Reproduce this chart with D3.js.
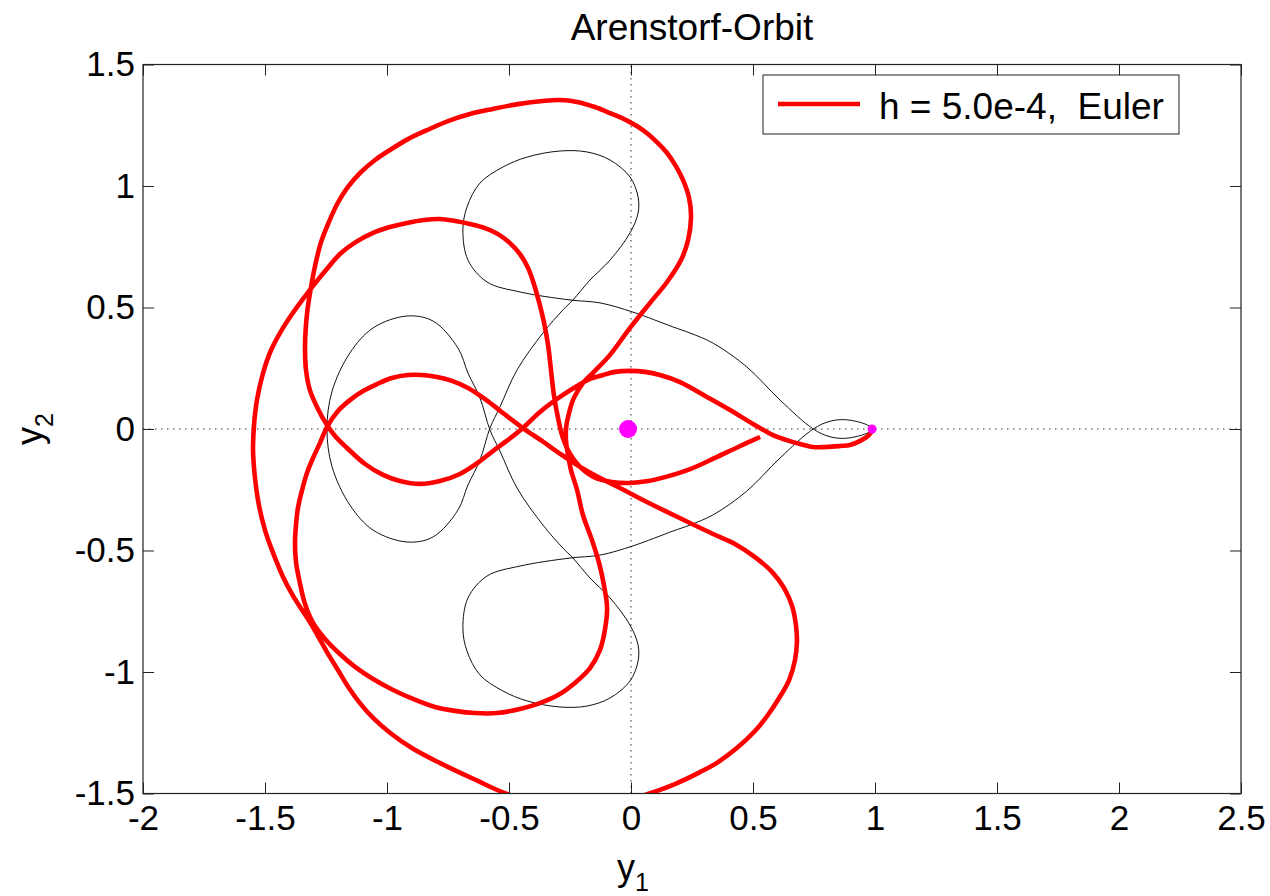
<!DOCTYPE html>
<html>
<head>
<meta charset="utf-8">
<script src="https://cdn.jsdelivr.net/npm/d3@7"></script>
<style>
body { margin: 0; background: #fff; }
svg text { font-family: "Liberation Sans", Arial, sans-serif; fill: #000; }
</style>
</head>
<body>
<svg width="1270" height="896"></svg>
<script>
let xTicks = [-2, -1.5, -1, -0.5, 0, 0.5, 1, 1.5, 2, 2.5]
let xTickLabels = ["-2", "-1.5", "-1", "-0.5", "0", "0.5", "1", "1.5", "2", "2.5"]
let yTicks = [-1.5, -1, -0.5, 0, 0.5, 1, 1.5]
let yTickLabels = ["-1.5", "-1", "-0.5", "0", "0.5", "1", "1.5"]

let legendLabel = "h = 5.0e-4,  Euler"
let titleText = "Arenstorf-Orbit"

// earth and moon positions
let earth = [-0.012, 0]
let moon = [0.988, 0]

// reference orbit (thin black)
let exactOrbit = [
  [0.994, 0], [0.966, -0.018], [0.884, -0.038], [0.816, -0.032], [0.747, 0],
  [0.611, 0.119], [0.474, 0.256], [0.337, 0.353], [0.242, 0.395], [0.172, 0.420],
  [0.008, 0.481], [-0.127, 0.519], [-0.250, 0.531], [-0.455, 0.564], [-0.590, 0.605],
  [-0.668, 0.695], [-0.689, 0.819], [-0.672, 0.914], [-0.619, 1.012], [-0.525, 1.078],
  [-0.426, 1.119], [-0.291, 1.144], [-0.180, 1.140], [-0.086, 1.107], [-0.004, 1.037],
  [0.029, 0.955], [0.029, 0.889], [-0.004, 0.807], [-0.086, 0.695], [-0.168, 0.613],
  [-0.238, 0.531], [-0.279, 0.490], [-0.361, 0.395], [-0.467, 0.243], [-0.537, 0.091],
  [-0.578, 0.004], [-0.619, -0.128], [-0.668, -0.230], [-0.709, -0.333], [-0.811, -0.444],
  [-0.918, -0.465], [-1.057, -0.416], [-1.152, -0.313], [-1.225, -0.156], [-1.246, 0],
  [-1.225, 0.156], [-1.152, 0.313], [-1.057, 0.416], [-0.918, 0.465], [-0.811, 0.444],
  [-0.709, 0.333], [-0.668, 0.230], [-0.619, 0.128], [-0.578, -0.004], [-0.537, -0.091],
  [-0.467, -0.243], [-0.361, -0.395], [-0.279, -0.490], [-0.238, -0.531], [-0.168, -0.613],
  [-0.086, -0.695], [-0.004, -0.807], [0.029, -0.889], [0.029, -0.955], [-0.004, -1.037],
  [-0.086, -1.107], [-0.180, -1.140], [-0.291, -1.144], [-0.426, -1.119], [-0.525, -1.078],
  [-0.619, -1.012], [-0.672, -0.914], [-0.689, -0.819], [-0.668, -0.695], [-0.590, -0.605],
  [-0.455, -0.564], [-0.250, -0.531], [-0.127, -0.519], [0.008, -0.481], [0.172, -0.420],
  [0.242, -0.395], [0.337, -0.353], [0.474, -0.256], [0.611, -0.119], [0.747, 0],
  [0.816, 0.032], [0.884, 0.038], [0.966, 0.018], [0.994, 0]
]

// Euler solution (thick red)
let eulerOrbit = [
  [0.994, 0], [0.971, -0.029], [0.939, -0.049], [0.898, -0.066], [0.857, -0.070],
  [0.799, -0.074], [0.746, -0.074], [0.693, -0.062], [0.635, -0.045], [0.582, -0.025],
  [0.500, 0.021], [0.406, 0.078], [0.311, 0.132], [0.201, 0.193], [0.119, 0.222],
  [0.057, 0.235], [-0.004, 0.239], [-0.066, 0.235], [-0.115, 0.222], [-0.168, 0.206],
  [-0.221, 0.177], [-0.291, 0.132], [-0.373, 0.070], [-0.443, 0.004], [-0.504, -0.045],
  [-0.566, -0.091], [-0.635, -0.144], [-0.701, -0.185], [-0.783, -0.214], [-0.865, -0.226],
  [-0.947, -0.214], [-1.016, -0.189], [-1.090, -0.144], [-1.164, -0.078], [-1.213, -0.029],
  [-1.246, 0.016], [-1.287, 0.091], [-1.316, 0.160], [-1.332, 0.243], [-1.336, 0.325],
  [-1.334, 0.400], [-1.326, 0.490], [-1.312, 0.580], [-1.294, 0.675], [-1.270, 0.770],
  [-1.238, 0.852], [-1.202, 0.930], [-1.160, 0.996], [-1.111, 1.053], [-1.049, 1.107],
  [-0.988, 1.148], [-0.914, 1.193], [-0.836, 1.230], [-0.750, 1.267], [-0.660, 1.296],
  [-0.566, 1.317], [-0.463, 1.337], [-0.361, 1.350], [-0.291, 1.354], [-0.221, 1.346],
  [-0.148, 1.325], [-0.086, 1.300], [-0.012, 1.267], [0.049, 1.230], [0.102, 1.185],
  [0.148, 1.136], [0.184, 1.082], [0.213, 1.025], [0.238, 0.951], [0.246, 0.872],
  [0.234, 0.778], [0.205, 0.695], [0.148, 0.605], [0.078, 0.519], [-0.004, 0.416],
  [-0.086, 0.305], [-0.148, 0.239], [-0.197, 0.189], [-0.234, 0.128], [-0.254, 0.066],
  [-0.266, 0.004], [-0.266, -0.053], [-0.258, -0.107], [-0.246, -0.169], [-0.221, -0.251],
  [-0.197, -0.354], [-0.160, -0.457], [-0.131, -0.551], [-0.111, -0.642], [-0.098, -0.737],
  [-0.107, -0.827], [-0.127, -0.909], [-0.168, -0.984], [-0.230, -1.045], [-0.299, -1.095],
  [-0.373, -1.128], [-0.455, -1.152], [-0.549, -1.169], [-0.639, -1.169], [-0.721, -1.160],
  [-0.803, -1.144], [-0.893, -1.111], [-0.975, -1.074], [-1.057, -1.029], [-1.131, -0.979],
  [-1.193, -0.926], [-1.254, -0.864], [-1.303, -0.798], [-1.336, -0.720], [-1.357, -0.634],
  [-1.373, -0.547], [-1.377, -0.469], [-1.373, -0.395], [-1.365, -0.325], [-1.348, -0.251],
  [-1.328, -0.181], [-1.303, -0.119], [-1.275, -0.058], [-1.246, 0.008], [-1.201, 0.074],
  [-1.152, 0.119], [-1.098, 0.156], [-1.041, 0.185], [-0.980, 0.210], [-0.914, 0.222],
  [-0.857, 0.222], [-0.795, 0.214], [-0.734, 0.198], [-0.668, 0.169], [-0.598, 0.123],
  [-0.525, 0.066], [-0.443, 0.004], [-0.365, -0.049], [-0.283, -0.107], [-0.201, -0.160],
  [-0.119, -0.206], [-0.037, -0.247], [0.049, -0.292], [0.139, -0.337], [0.242, -0.387],
  [0.336, -0.432], [0.426, -0.473], [0.508, -0.527], [0.578, -0.588], [0.627, -0.654],
  [0.660, -0.728], [0.676, -0.807], [0.680, -0.877], [0.672, -0.951], [0.648, -1.033],
  [0.607, -1.107], [0.561, -1.177], [0.508, -1.243], [0.434, -1.313], [0.352, -1.374],
  [0.283, -1.412], [0.180, -1.461], [0.057, -1.506], [-0.078, -1.543], [-0.225, -1.560],
  [-0.373, -1.539], [-0.508, -1.502], [-0.639, -1.443], [-0.780, -1.376], [-0.895, -1.315],
  [-0.988, -1.250], [-1.057, -1.189], [-1.111, -1.128], [-1.156, -1.066], [-1.201, -0.992],
  [-1.246, -0.918], [-1.283, -0.852], [-1.316, -0.794], [-1.348, -0.745], [-1.385, -0.687],
  [-1.426, -0.609], [-1.467, -0.510], [-1.500, -0.416], [-1.525, -0.313], [-1.541, -0.202],
  [-1.549, -0.086], [-1.545, 0.016], [-1.533, 0.119], [-1.508, 0.230], [-1.475, 0.325],
  [-1.434, 0.403], [-1.389, 0.473], [-1.344, 0.535], [-1.307, 0.584], [-1.250, 0.654],
  [-1.193, 0.720], [-1.127, 0.770], [-1.057, 0.807], [-0.988, 0.831], [-0.918, 0.848],
  [-0.848, 0.860], [-0.783, 0.864], [-0.721, 0.856], [-0.660, 0.844], [-0.598, 0.827],
  [-0.545, 0.802], [-0.496, 0.765], [-0.455, 0.720], [-0.422, 0.663], [-0.398, 0.597],
  [-0.377, 0.523], [-0.357, 0.440], [-0.340, 0.346], [-0.328, 0.243], [-0.316, 0.140],
  [-0.299, 0.045], [-0.279, -0.037], [-0.250, -0.103], [-0.209, -0.156], [-0.152, -0.198],
  [-0.078, -0.218], [-0.004, -0.222], [0.070, -0.214], [0.139, -0.198], [0.242, -0.165],
  [0.344, -0.119], [0.439, -0.074], [0.529, -0.033]
]

let svg = d3.select("svg")

let plotLeft = 143, plotRight = 1241, plotTop = 64.5, plotBottom = 793.5

let x = d3.scaleLinear().domain([-2, 2.5]).range([plotLeft, plotRight])
let y = d3.scaleLinear().domain([-1.5, 1.5]).range([plotBottom, plotTop])

svg.append("rect").attr("width", 1270).attr("height", 896).attr("fill", "#fff")

svg.append("defs").append("clipPath").attr("id", "plotClip")
  .append("rect")
  .attr("x", plotLeft).attr("y", plotTop)
  .attr("width", plotRight - plotLeft).attr("height", plotBottom - plotTop)

let plot = svg.append("g").attr("clip-path", "url(#plotClip)")

// dotted zero lines
plot.append("line")
  .attr("x1", x(-2)).attr("x2", x(2.5))
  .attr("y1", y(0)).attr("y2", y(0))
  .attr("stroke", "#333").attr("stroke-width", 1)
  .attr("stroke-dasharray", "1.5,4.5")

plot.append("line")
  .attr("x1", x(0)).attr("x2", x(0))
  .attr("y1", y(-1.5)).attr("y2", y(1.5))
  .attr("stroke", "#333").attr("stroke-width", 1)
  .attr("stroke-dasharray", "1.5,4.5")

let line = d3.line()
  .x(d => x(d[0]))
  .y(d => y(d[1]))
  .curve(d3.curveCatmullRom.alpha(0.5))

plot.append("path")
  .attr("d", line(exactOrbit))
  .attr("fill", "none")
  .attr("stroke", "#111")
  .attr("stroke-width", 1)

plot.append("path")
  .attr("d", line(eulerOrbit))
  .attr("fill", "none")
  .attr("stroke", "#ff0000")
  .attr("stroke-width", 4.6)
  .attr("stroke-linejoin", "round")

plot.append("circle")
  .attr("cx", x(earth[0])).attr("cy", y(earth[1]))
  .attr("r", 9).attr("fill", "#ff00ff")

plot.append("circle")
  .attr("cx", x(moon[0])).attr("cy", y(moon[1]))
  .attr("r", 4.5).attr("fill", "#ff00ff")

// axes box with inward ticks
let axisG = svg.append("g")

axisG.append("g")
  .attr("transform", "translate(0," + plotBottom + ")")
  .call(d3.axisBottom(x).tickValues(xTicks).tickSize(-11).tickSizeOuter(0).tickPadding(12)
    .tickFormat((d, i) => xTickLabels[i]))

axisG.append("g")
  .attr("transform", "translate(0," + plotTop + ")")
  .call(d3.axisTop(x).tickValues(xTicks).tickSize(-11).tickSizeOuter(0).tickFormat(""))

axisG.append("g")
  .attr("transform", "translate(" + plotLeft + ",0)")
  .call(d3.axisLeft(y).tickValues(yTicks).tickSize(-11).tickSizeOuter(0).tickPadding(8)
    .tickFormat((d, i) => yTickLabels[i]))

axisG.append("g")
  .attr("transform", "translate(" + plotRight + ",0)")
  .call(d3.axisRight(y).tickValues(yTicks).tickSize(-11).tickSizeOuter(0).tickFormat(""))

axisG.selectAll(".domain").remove()
axisG.selectAll(".tick line").attr("stroke", "#222").attr("stroke-width", 1)
axisG.selectAll(".tick text")
  .attr("font-family", "Liberation Sans, Arial, sans-serif")
  .attr("font-size", 35)
  .attr("fill", "#000")

svg.append("rect")
  .attr("x", plotLeft).attr("y", plotTop)
  .attr("width", plotRight - plotLeft).attr("height", plotBottom - plotTop)
  .attr("fill", "none").attr("stroke", "#222").attr("stroke-width", 1.2)

// title and axis labels
svg.append("text")
  .attr("x", (plotLeft + plotRight) / 2).attr("y", 40)
  .attr("text-anchor", "middle")
  .attr("font-size", 37)
  .text(titleText)

let xLabel = svg.append("text")
  .attr("x", 633).attr("y", 880)
  .attr("text-anchor", "middle")
  .attr("font-size", 36)
xLabel.append("tspan").text("y")
xLabel.append("tspan").attr("font-size", 25).attr("dy", 11).text("1")

let yLabel = svg.append("text")
  .attr("transform", "translate(42," + ((plotTop + plotBottom) / 2) + ") rotate(-90)")
  .attr("text-anchor", "middle")
  .attr("font-size", 36)
yLabel.append("tspan").text("y")
yLabel.append("tspan").attr("font-size", 25).attr("dy", 11).text("2")

// legend
let legend = svg.append("g").attr("transform", "translate(763,75)")

legend.append("rect")
  .attr("width", 416).attr("height", 59)
  .attr("fill", "#fff").attr("stroke", "#222").attr("stroke-width", 1)

legend.append("line")
  .attr("x1", 15).attr("x2", 97)
  .attr("y1", 29).attr("y2", 29)
  .attr("stroke", "#ff0000").attr("stroke-width", 4.6)

legend.append("text")
  .attr("x", 116).attr("y", 44)
  .attr("font-size", 37)
  .style("white-space", "pre")
  .text(legendLabel)
</script>
</body>
</html>
